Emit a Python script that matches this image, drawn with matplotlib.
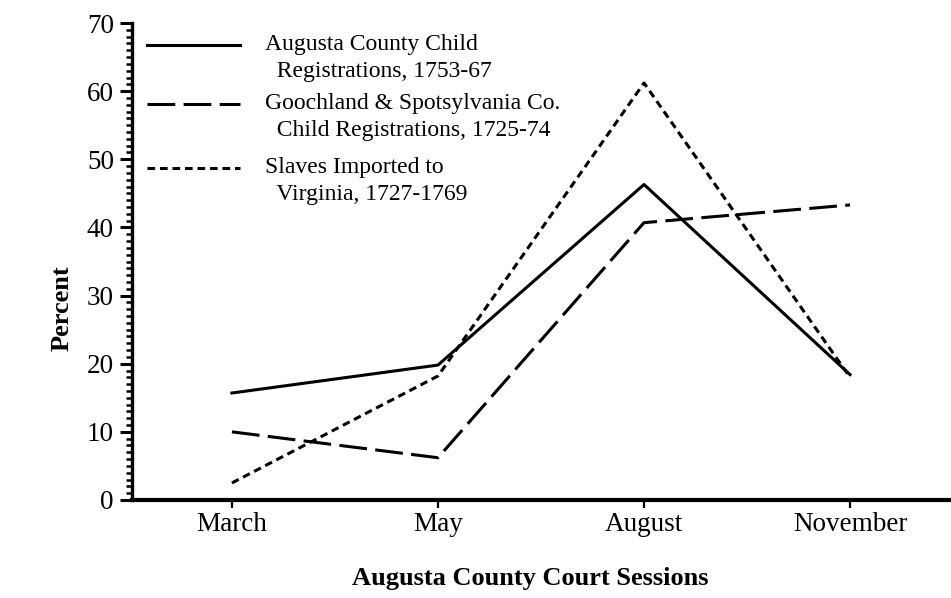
import numpy as np
import matplotlib
matplotlib.use("Agg")
import matplotlib.pyplot as plt
from matplotlib.ticker import MultipleLocator

plt.rcParams['font.family'] = ['Liberation Serif', 'DejaVu Serif']
plt.rcParams['lines.scale_dashes'] = False

sessions = ["March", "May", "August", "November"]
augusta = [15.7, 19.8, 46.3, 18.4]
goochland = [10.0, 6.2, 40.7, 43.3]
slaves = [2.5, 18.2, 61.2, 18.0]

labels = ["Augusta County Child\n  Registrations, 1753-67",
          "Goochland & Spotsylvania Co.\n  Child Registrations, 1725-74",
          "Slaves Imported to\n  Virginia, 1727-1769"]

fig = plt.figure(figsize=(9.51, 5.98), dpi=100)
ax = fig.add_axes([0.1388, 0.1639, 0.8612, 0.7976])

x = np.arange(len(sessions))
lw = 2.2
styles = [dict(), dict(dashes=(20, 6)), dict(dashes=(5.5, 3.5))]
series = [augusta, goochland, slaves]
for vals, st in zip(series, styles):
    ax.plot(x, vals, color='black', lw=lw, **st)

ax.set_xlim(-0.485, 3.49)
ax.set_ylim(0, 70)
ax.set_xticks(x)
ax.set_xticklabels(sessions, fontsize=19.5)
ax.yaxis.set_major_locator(MultipleLocator(10))
ax.yaxis.set_minor_locator(MultipleLocator(1))
ax.tick_params(axis='y', which='major', direction='out', length=9, width=2.2,
               labelsize=19.5, pad=4)
ax.tick_params(axis='y', which='minor', direction='out', length=4.5, width=1.8)
ax.tick_params(axis='x', which='major', direction='out', length=6, width=1.6,
               labelsize=19.5, pad=3)

for s in ['top', 'right']:
    ax.spines[s].set_visible(False)
ax.spines['left'].set_linewidth(2.4)
ax.spines['bottom'].set_linewidth(3.0)

fig.text(0.065, 0.485, "Percent", fontsize=19, fontweight='bold',
         rotation=90, ha='center', va='center')
fig.text(0.558, 0.033, "Augusta County Court Sessions", fontsize=19,
         fontweight='bold', ha='center', va='center')

# hand-made legend: sample line level with the first line of each label
leg_y = [0.954, 0.830, 0.696]
for yy, st, lab in zip(leg_y, styles, labels):
    ax.plot([0.018, 0.132], [yy, yy], transform=ax.transAxes, color='black',
            lw=lw, clip_on=False, **st)
    ax.text(0.162, yy + 0.024, lab, transform=ax.transAxes, fontsize=17,
            ha='left', va='top', linespacing=1.38)

fig.savefig("out.png", dpi=100)
